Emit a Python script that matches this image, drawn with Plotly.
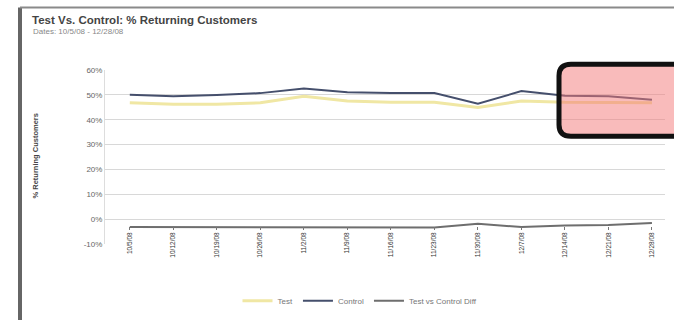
import plotly.graph_objects as go

dates = ["10/5/08", "10/12/08", "10/19/08", "10/26/08", "11/2/08", "11/9/08", "11/16/08",
         "11/23/08", "11/30/08", "12/7/08", "12/14/08", "12/21/08", "12/28/08"]
test = [46.8, 46.2, 46.2, 46.8, 49.4, 47.5, 47.0, 47.0, 44.9, 47.5, 47.0, 46.8, 46.8]
control = [50.0, 49.4, 49.9, 50.7, 52.6, 51.0, 50.7, 50.7, 46.4, 51.5, 49.6, 49.4, 48.0]
diff = [-3.2, -3.2, -3.4, -3.5, -3.2, -3.3, -3.4, -3.4, -1.9, -3.2, -2.6, -2.4, -1.6]
ytick_vals = [-10, 0, 10, 20, 30, 40, 50, 60]
ytick_text = ["-10%", "0%", "10%", "20%", "30%", "40%", "50%", "60%"]

W, Hh = 674, 324
L, R, T, B = 105, 9, 70, 73
PW, PH = W - L - R, Hh - T - B


def px(x):
    return (x - L) / PW


def py(y):
    return 1 - (y - T) / PH


xs = list(range(len(dates)))
fig = go.Figure()
fig.add_trace(go.Scatter(x=xs, y=test, mode="lines", name="Test",
                         line=dict(color="#f0e7a4", width=3)))
fig.add_trace(go.Scatter(x=xs, y=control, mode="lines", name="Control",
                         line=dict(color="#454f6c", width=2)))
fig.add_trace(go.Scatter(x=xs, y=diff, mode="lines", name="Test vs Control Diff",
                         line=dict(color="#6e6e6e", width=2)))

# rounded highlight box
x0, x1, y0, y1, r = 559, 684, 64, 139, 12
path = (f"M {px(x0 + r)} {py(y0)} L {px(x1 - r)} {py(y0)} "
        f"Q {px(x1)} {py(y0)} {px(x1)} {py(y0 + r)} L {px(x1)} {py(y1 - r)} "
        f"Q {px(x1)} {py(y1)} {px(x1 - r)} {py(y1)} L {px(x0 + r)} {py(y1)} "
        f"Q {px(x0)} {py(y1)} {px(x0)} {py(y1 - r)} L {px(x0)} {py(y0 + r)} "
        f"Q {px(x0)} {py(y0)} {px(x0 + r)} {py(y0)} Z")

shapes = [
    dict(type="path", xref="paper", yref="paper", path=path, layer="above",
         fillcolor="rgba(244,120,120,0.5)", line=dict(color="#111", width=5)),
    dict(type="line", xref="paper", yref="paper", x0=px(20), x1=px(20), y0=py(5), y1=py(330),
         line=dict(color="#666", width=4)),
    dict(type="line", xref="paper", yref="paper", x0=px(20), x1=px(680), y0=py(5), y1=py(5),
         line=dict(color="#8a8a8a", width=2)),
]

annotations = [
    dict(xref="paper", yref="paper", x=px(30), y=py(18), xanchor="left", yanchor="middle",
         text="<b>Test Vs. Control: % Returning Customers</b>", showarrow=False,
         font=dict(size=11.5, color="#444", family="Arial")),
    dict(xref="paper", yref="paper", x=px(31), y=py(30), xanchor="left", yanchor="middle",
         text="Dates: 10/5/08 - 12/28/08", showarrow=False,
         font=dict(size=8, color="#888", family="Arial")),
    dict(xref="paper", yref="paper", x=px(36), y=py(160), xanchor="center", yanchor="middle",
         text="<b>% Returning Customers</b>", showarrow=False, textangle=-90,
         font=dict(size=7.5, color="#444", family="Arial")),
]

fig.update_layout(
    width=W, height=Hh,
    margin=dict(l=L, r=R, t=T, b=B),
    paper_bgcolor="white", plot_bgcolor="white",
    shapes=shapes, annotations=annotations,
    showlegend=True,
    legend=dict(orientation="h", x=px(360), xanchor="center", y=py(310), yanchor="middle",
                font=dict(size=8, color="#777", family="Arial"), itemwidth=30),
    xaxis=dict(range=[-0.57, 12.3], tickmode="array", tickvals=xs, ticktext=dates,
               tickangle=-90, showgrid=False, zeroline=False, showline=False,
               anchor="free", position=py(232), ticks="outside", ticklen=3,
               tickcolor="#777", tickfont=dict(size=6.5, color="#333", family="Arial")),
    yaxis=dict(range=[-10, 60], tickmode="array", tickvals=ytick_vals, ticktext=ytick_text,
               showgrid=True, gridcolor="#d8d8d8", gridwidth=1, zeroline=False,
               showline=True, linecolor="#dddddd",
               tickfont=dict(size=8, color="#666", family="Arial")),
)

fig.write_html("out.html")
